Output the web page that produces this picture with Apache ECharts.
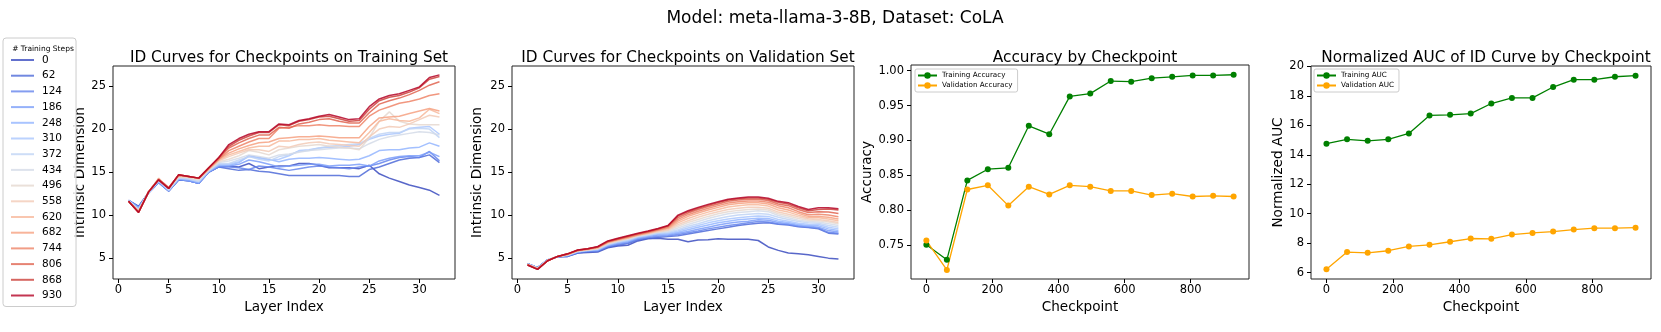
<!DOCTYPE html>
<html>
<head>
<meta charset="utf-8">
<script src="https://cdn.jsdelivr.net/npm/echarts@6/dist/echarts.min.js"></script>
<style>
  html, body { margin: 0; padding: 0; background: #fff; }
  #chart { width: 1661px; height: 332px; }
</style>
</head>
<body>
<div id="chart"></div>
<script>
// checkpoints (training steps) and layer indices
const steps = ['0', '62', '124', '186', '248', '310', '372', '434', '496', '558', '620', '682', '744', '806', '868', '930'];
const checkpoints = [0, 62, 124, 186, 248, 310, 372, 434, 496, 558, 620, 682, 744, 806, 868, 930];
const layers = [1, 2, 3, 4, 5, 6, 7, 8, 9, 10, 11, 12, 13, 14, 15, 16, 17, 18, 19, 20, 21, 22, 23, 24, 25, 26, 27, 28, 29, 30, 31, 32];

// coolwarm samples, one per checkpoint
const stepColors = ['#3b4cc0', '#4e6ad8', '#6585ec', '#7b9ef9', '#93b5ff', '#aac7fe', '#c0d4f5', '#d4dbe7',
  '#e5d8d0', '#f2cab6', '#f7b89b', '#f6a181', '#ee8568', '#e06450', '#cc4039', '#b40426'];

// ID curves, training set
const tr0 = [11.7, 11.0, 12.6, 13.8, 12.8, 14.1, 14.0, 13.7, 15.0, 15.6, 15.7, 15.6, 16.0, 15.4, 15.6, 15.7, 15.7, 16.0, 16.0, 15.8, 15.5, 15.5, 15.5, 15.4, 15.8, 14.8, 14.3, 13.9, 13.5, 13.2, 12.9, 12.3];
const tr62 = [11.7, 11.0, 12.6, 13.8, 12.8, 14.1, 14.0, 13.7, 15.0, 15.6, 15.4, 15.2, 15.3, 15.1, 15.0, 14.8, 14.6, 14.6, 14.6, 14.6, 14.6, 14.6, 14.5, 14.5, 15.3, 15.6, 16.0, 16.4, 16.6, 16.7, 17.0, 16.1];
const tr124 = [11.7, 10.9, 12.6, 13.8, 12.8, 14.1, 14.0, 13.7, 15.0, 15.6, 15.6, 15.5, 15.3, 15.7, 15.6, 15.4, 15.2, 15.4, 15.6, 15.7, 15.6, 15.5, 15.4, 15.6, 15.7, 16.0, 16.4, 16.7, 16.8, 16.7, 17.4, 16.3];
const tr186 = [11.7, 10.9, 12.6, 13.8, 12.8, 14.2, 14.0, 13.7, 15.0, 15.7, 15.7, 15.9, 16.4, 16.2, 15.9, 15.6, 15.7, 15.8, 15.9, 15.9, 15.7, 15.8, 15.8, 15.9, 15.7, 16.3, 16.6, 16.8, 16.9, 16.9, 17.3, 16.8];
const tr248 = [11.7, 10.8, 12.6, 13.9, 12.9, 14.2, 14.1, 13.8, 15.1, 15.8, 15.8, 16.1, 16.9, 16.7, 16.5, 16.2, 16.5, 16.6, 16.6, 16.7, 16.6, 16.5, 16.4, 16.5, 16.9, 17.5, 17.6, 17.6, 17.8, 17.9, 18.4, 18.0];
const tr310 = [11.7, 10.7, 12.6, 14.0, 12.9, 14.3, 14.2, 13.9, 15.1, 15.9, 15.9, 16.2, 16.8, 16.6, 16.4, 16.5, 16.9, 17.5, 17.6, 17.8, 17.9, 17.9, 18.0, 18.2, 18.8, 19.2, 19.4, 19.5, 20.1, 20.2, 20.3, 19.4];
const tr372 = [11.7, 10.6, 12.6, 14.0, 12.9, 14.3, 14.2, 13.9, 15.2, 16.0, 16.0, 16.4, 16.8, 16.5, 16.3, 16.8, 17.0, 17.4, 17.5, 17.8, 18.0, 18.1, 18.2, 18.3, 18.9, 19.4, 19.6, 19.6, 20.0, 20.1, 20.0, 19.0];
const tr434 = [11.6, 10.6, 12.7, 14.1, 13.0, 14.4, 14.3, 14.0, 15.2, 16.1, 16.3, 16.6, 17.0, 16.8, 16.6, 17.0, 17.1, 17.3, 17.5, 17.6, 17.7, 17.8, 17.8, 17.7, 18.3, 18.8, 19.1, 19.3, 19.5, 19.7, 19.6, 19.3];
const tr496 = [11.6, 10.5, 12.7, 14.2, 13.1, 14.5, 14.4, 14.2, 15.3, 16.2, 16.5, 16.9, 17.5, 17.3, 17.0, 17.6, 17.8, 18.0, 18.1, 18.2, 18.0, 17.9, 17.8, 17.6, 19.0, 20.9, 22.0, 20.9, 20.6, 20.5, 20.5, 20.5];
const tr558 = [11.6, 10.5, 12.7, 14.3, 13.1, 14.5, 14.4, 14.2, 15.3, 16.3, 16.8, 17.2, 17.6, 17.6, 17.4, 18.0, 17.9, 18.2, 18.4, 18.5, 18.3, 18.2, 18.1, 18.0, 19.1, 20.0, 20.3, 20.2, 20.6, 21.1, 21.6, 21.4];
const tr620 = [11.6, 10.4, 12.7, 14.2, 13.2, 14.6, 14.5, 14.3, 15.4, 16.4, 17.0, 17.4, 17.8, 18.0, 18.0, 18.6, 18.6, 18.8, 18.8, 18.9, 18.7, 18.6, 18.5, 18.4, 19.6, 20.9, 21.2, 21.0, 20.9, 21.3, 22.3, 21.8];
const tr682 = [11.6, 10.4, 12.7, 14.2, 13.2, 14.6, 14.5, 14.3, 15.4, 16.5, 17.2, 17.7, 18.1, 18.4, 18.5, 18.9, 19.0, 19.1, 19.1, 19.2, 19.1, 19.0, 19.0, 19.0, 20.3, 21.3, 21.4, 21.5, 21.8, 22.1, 22.4, 22.1];
const tr744 = [11.6, 10.4, 12.7, 14.2, 13.2, 14.6, 14.5, 14.3, 15.4, 16.5, 17.5, 18.0, 18.5, 18.9, 18.9, 20.1, 20.2, 20.4, 20.4, 20.5, 20.4, 20.4, 20.3, 20.3, 21.5, 22.2, 22.6, 23.0, 23.2, 23.5, 23.9, 24.1];
const tr806 = [11.6, 10.3, 12.7, 14.1, 13.1, 14.7, 14.5, 14.3, 15.5, 16.6, 17.8, 18.4, 18.9, 19.3, 19.3, 20.2, 20.1, 20.6, 20.8, 21.1, 21.2, 20.9, 20.7, 20.7, 21.9, 22.9, 23.3, 23.6, 24.0, 24.5, 25.1, 25.5];
const tr868 = [11.6, 10.3, 12.7, 14.1, 13.1, 14.7, 14.5, 14.3, 15.5, 16.7, 18.0, 18.7, 19.2, 19.6, 19.6, 20.5, 20.4, 20.9, 21.1, 21.4, 21.5, 21.2, 20.9, 21.0, 22.3, 23.3, 23.7, 23.9, 24.3, 24.8, 25.8, 26.1];
const tr930 = [11.6, 10.3, 12.7, 14.1, 13.1, 14.7, 14.5, 14.3, 15.5, 16.7, 18.2, 18.9, 19.4, 19.7, 19.7, 20.6, 20.5, 21.0, 21.2, 21.5, 21.7, 21.4, 21.1, 21.2, 22.6, 23.5, 23.9, 24.1, 24.5, 24.9, 26.0, 26.3];

// ID curves, validation set
const va0 = [4.35, 3.9, 4.8, 5.15, 5.2, 5.6, 5.65, 5.7, 6.2, 6.4, 6.5, 7.0, 7.25, 7.3, 7.2, 7.2, 6.9, 7.1, 7.15, 7.25, 7.2, 7.2, 7.2, 7.05, 6.3, 5.9, 5.6, 5.5, 5.4, 5.2, 5.0, 4.9];
const va62 = [4.35, 3.9, 4.8, 5.15, 5.2, 5.6, 5.75, 5.8, 6.3, 6.5, 6.7, 7.1, 7.3, 7.4, 7.5, 7.6, 7.8, 8.0, 8.2, 8.4, 8.6, 8.8, 8.95, 9.05, 9.1, 8.95, 8.85, 8.65, 8.55, 8.4, 7.9, 7.8];
const va124 = [4.35, 3.9, 4.8, 5.15, 5.25, 5.65, 5.8, 5.85, 6.35, 6.6, 6.8, 7.2, 7.4, 7.55, 7.6, 7.75, 7.95, 8.15, 8.4, 8.6, 8.8, 8.95, 9.1, 9.25, 9.2, 9.0, 8.9, 8.7, 8.6, 8.5, 8.0, 7.9];
const va186 = [4.35, 3.9, 4.8, 5.15, 5.3, 5.7, 5.85, 5.9, 6.45, 6.7, 6.9, 7.3, 7.5, 7.7, 7.7, 7.9, 8.1, 8.35, 8.6, 8.85, 9.05, 9.2, 9.3, 9.45, 9.4, 9.15, 9.0, 8.8, 8.7, 8.6, 8.2, 8.05];
const va248 = [4.35, 3.85, 4.8, 5.2, 5.3, 5.75, 5.9, 5.95, 6.5, 6.8, 7.0, 7.4, 7.6, 7.8, 7.8, 8.0, 8.3, 8.6, 8.85, 9.1, 9.3, 9.45, 9.55, 9.65, 9.6, 9.3, 9.15, 8.9, 8.8, 8.75, 8.4, 8.2];
const va310 = [4.3, 3.85, 4.75, 5.2, 5.35, 5.75, 5.9, 6.0, 6.55, 6.85, 7.05, 7.45, 7.65, 7.85, 7.9, 8.15, 8.5, 8.8, 9.1, 9.35, 9.55, 9.7, 9.8, 9.9, 9.85, 9.5, 9.3, 9.05, 8.95, 8.9, 8.6, 8.4];
const va372 = [4.3, 3.85, 4.75, 5.2, 5.35, 5.8, 5.95, 6.05, 6.6, 6.9, 7.1, 7.5, 7.7, 7.9, 8.0, 8.3, 8.7, 9.0, 9.35, 9.6, 9.85, 10.0, 10.1, 10.2, 10.1, 9.75, 9.5, 9.25, 9.1, 9.05, 8.8, 8.6];
const va434 = [4.3, 3.8, 4.75, 5.2, 5.4, 5.8, 5.95, 6.1, 6.65, 6.95, 7.2, 7.55, 7.75, 8.0, 8.1, 8.5, 8.9, 9.25, 9.6, 9.9, 10.15, 10.3, 10.4, 10.5, 10.4, 9.95, 9.7, 9.4, 9.25, 9.2, 9.0, 8.8];
const va496 = [4.3, 3.8, 4.75, 5.2, 5.4, 5.85, 5.95, 6.1, 6.7, 7.0, 7.25, 7.6, 7.8, 8.05, 8.2, 8.7, 9.15, 9.5, 9.85, 10.15, 10.4, 10.55, 10.65, 10.7, 10.6, 10.15, 9.9, 9.6, 9.4, 9.35, 9.2, 9.0];
const va558 = [4.3, 3.8, 4.75, 5.2, 5.4, 5.85, 6.0, 6.15, 6.75, 7.05, 7.3, 7.65, 7.85, 8.1, 8.3, 8.9, 9.35, 9.75, 10.1, 10.4, 10.65, 10.8, 10.9, 10.9, 10.8, 10.35, 10.1, 9.8, 9.55, 9.5, 9.35, 9.15];
const va620 = [4.25, 3.75, 4.7, 5.2, 5.45, 5.9, 6.0, 6.2, 6.8, 7.1, 7.35, 7.7, 7.9, 8.2, 8.4, 9.1, 9.6, 10.0, 10.35, 10.65, 10.95, 11.1, 11.2, 11.2, 11.05, 10.6, 10.35, 10.0, 9.7, 9.7, 9.55, 9.35];
const va682 = [4.25, 3.75, 4.7, 5.2, 5.45, 5.9, 6.05, 6.25, 6.85, 7.15, 7.4, 7.7, 7.95, 8.25, 8.5, 9.3, 9.85, 10.25, 10.6, 10.9, 11.2, 11.35, 11.45, 11.45, 11.3, 10.85, 10.6, 10.2, 9.85, 9.85, 9.75, 9.55];
const va744 = [4.25, 3.75, 4.7, 5.2, 5.45, 5.9, 6.05, 6.25, 6.9, 7.2, 7.45, 7.75, 8.0, 8.3, 8.6, 9.5, 10.05, 10.45, 10.8, 11.1, 11.4, 11.55, 11.65, 11.65, 11.5, 11.1, 10.85, 10.4, 10.05, 10.1, 10.0, 9.8];
const va806 = [4.2, 3.7, 4.7, 5.2, 5.5, 5.9, 6.1, 6.3, 6.9, 7.2, 7.5, 7.8, 8.05, 8.35, 8.7, 9.7, 10.25, 10.65, 11.0, 11.3, 11.6, 11.75, 11.85, 11.85, 11.7, 11.3, 11.1, 10.65, 10.3, 10.4, 10.35, 10.2];
const va868 = [4.2, 3.7, 4.7, 5.2, 5.5, 5.95, 6.1, 6.3, 6.95, 7.25, 7.55, 7.85, 8.1, 8.4, 8.75, 9.9, 10.4, 10.8, 11.15, 11.45, 11.75, 11.9, 12.0, 12.0, 11.85, 11.5, 11.3, 10.85, 10.5, 10.65, 10.7, 10.6];
const va930 = [4.2, 3.7, 4.7, 5.2, 5.5, 5.95, 6.1, 6.35, 7.0, 7.3, 7.6, 7.9, 8.15, 8.45, 8.8, 10.0, 10.5, 10.9, 11.25, 11.55, 11.85, 12.0, 12.1, 12.1, 11.95, 11.6, 11.45, 11.0, 10.65, 10.85, 10.85, 10.75];

const trainCurves = [tr0, tr62, tr124, tr186, tr248, tr310, tr372, tr434, tr496, tr558, tr620, tr682, tr744, tr806, tr868, tr930];
const valCurves = [va0, va62, va124, va186, va248, va310, va372, va434, va496, va558, va620, va682, va744, va806, va868, va930];

// accuracy and normalized AUC per checkpoint
const trainAcc = [0.751, 0.7295, 0.843, 0.859, 0.861, 0.921, 0.909, 0.963, 0.967, 0.985, 0.984, 0.989, 0.991, 0.993, 0.993, 0.994];
const valAcc = [0.757, 0.715, 0.830, 0.836, 0.807, 0.834, 0.823, 0.836, 0.834, 0.828, 0.828, 0.822, 0.824, 0.820, 0.821, 0.820];
const trainAuc = [14.75, 15.05, 14.95, 15.05, 15.45, 16.67, 16.71, 16.8, 17.48, 17.86, 17.86, 18.6, 19.1, 19.1, 19.3, 19.37];
const valAuc = [6.22, 7.39, 7.34, 7.48, 7.77, 7.88, 8.09, 8.31, 8.29, 8.58, 8.69, 8.78, 8.92, 9.01, 9.01, 9.05];

const layerTicks = [0, 5, 10, 15, 20, 25, 30];
const idTicks = [5, 10, 15, 20, 25];
const ckptTicks = [0, 200, 400, 600, 800];
const accTicks = [0.75, 0.80, 0.85, 0.90, 0.95, 1.00];
const aucTicks = [6, 8, 10, 12, 14, 16, 18, 20];

const FONT = 'DejaVu Sans';

function xAxisFor(grid, min, max, ticks, name) {
  return {
    type: 'value', gridIndex: grid, min: min, max: max,
    name: name, nameLocation: 'middle', nameGap: 20,
    nameTextStyle: { fontSize: 13.6, color: '#000', fontFamily: FONT },
    axisLine: { show: false, onZero: false },
    axisTick: { show: true, length: 4, customValues: ticks, lineStyle: { color: '#000' } },
    axisLabel: { customValues: ticks, margin: 5, fontSize: 11.5, color: '#000', fontFamily: FONT },
    splitLine: { show: false }
  };
}

function yAxisFor(grid, min, max, ticks, name, gap, fmt) {
  return {
    type: 'value', gridIndex: grid, min: min, max: max,
    name: name, nameLocation: 'middle', nameGap: gap,
    nameTextStyle: { fontSize: 13.6, color: '#000', fontFamily: FONT },
    axisLine: { show: false, onZero: false },
    axisTick: { show: true, length: 4, customValues: ticks, lineStyle: { color: '#000' } },
    axisLabel: { customValues: ticks, margin: 7, fontSize: 11.5, color: '#000', fontFamily: FONT, formatter: fmt },
    splitLine: { show: false }
  };
}

const gridBase = { show: true, borderColor: '#222', borderWidth: 1, backgroundColor: '#fff', containLabel: false, outerBoundsMode: 'none' };

const series = [];
trainCurves.forEach(function (curve, i) {
  series.push({
    name: steps[i], type: 'line', xAxisIndex: 0, yAxisIndex: 0,
    data: layers.map(function (l, k) { return [l, curve[k]]; }),
    symbol: 'none', color: stepColors[i],
    lineStyle: { width: 1.5, color: stepColors[i], opacity: 0.85 }
  });
});
valCurves.forEach(function (curve, i) {
  series.push({
    name: steps[i], type: 'line', xAxisIndex: 1, yAxisIndex: 1,
    data: layers.map(function (l, k) { return [l, curve[k]]; }),
    symbol: 'none', color: stepColors[i],
    lineStyle: { width: 1.5, color: stepColors[i], opacity: 0.85 }
  });
});

function pointSeries(name, axis, values, color) {
  return {
    name: name, type: 'line', xAxisIndex: axis, yAxisIndex: axis,
    data: checkpoints.map(function (c, k) { return [c, values[k]]; }),
    symbol: 'circle', symbolSize: 6, color: color,
    itemStyle: { color: color }, lineStyle: { width: 1.3, color: color }
  };
}
series.push(pointSeries('Training Accuracy', 2, trainAcc, '#008000'));
series.push(pointSeries('Validation Accuracy', 2, valAcc, '#ffa500'));
series.push(pointSeries('Training AUC', 3, trainAuc, '#008000'));
series.push(pointSeries('Validation AUC', 3, valAuc, '#ffa500'));

function panelTitle(text, cx) {
  return { text: text, left: cx, top: 46, textAlign: 'center',
    textStyle: { fontSize: 15.3, fontWeight: 'normal', color: '#000', fontFamily: FONT } };
}

function smallLegend(names, left) {
  return {
    data: names, orient: 'vertical', left: left, top: 69,
    itemWidth: 19, itemHeight: 8, itemGap: 3, padding: [3, 5, 3, 2],
    borderColor: '#ccc', borderWidth: 1, borderRadius: 2, backgroundColor: 'rgba(255,255,255,0.8)',
    textStyle: { fontSize: 7.2, color: '#000', fontFamily: FONT }
  };
}

const option = {
  animation: false,
  backgroundColor: '#fff',
  title: [
    { text: 'Model: meta-llama-3-8B, Dataset: CoLA', left: 830, top: 5, textAlign: 'center',
      textStyle: { fontSize: 17, fontWeight: 'normal', color: '#000', fontFamily: FONT } },
    panelTitle('ID Curves for Checkpoints on Training Set', 284),
    panelTitle('ID Curves for Checkpoints on Validation Set', 683),
    panelTitle('Accuracy by Checkpoint', 1080),
    panelTitle('Normalized AUC of ID Curve by Checkpoint', 1481),
    { text: '# Training Steps', left: 38, top: 40, textAlign: 'center',
      textStyle: { fontSize: 7.5, fontWeight: 'normal', color: '#000', fontFamily: FONT } }
  ],
  legend: [
    {
      data: steps, orient: 'vertical', left: 3, top: 38, icon: 'rect',
      itemWidth: 23, itemHeight: 2, itemGap: 3.7, padding: [16, 14, 5, 8],
      itemStyle: { opacity: 0.8 },
      borderColor: '#ccc', borderWidth: 1, borderRadius: 3, backgroundColor: 'rgba(255,255,255,0.8)',
      textStyle: { fontSize: 10.5, lineHeight: 12, color: '#000', fontFamily: FONT, padding: [0, 0, 0, 3] }
    },
    smallLegend(['Training Accuracy', 'Validation Accuracy'], 915),
    smallLegend(['Training AUC', 'Validation AUC'], 1314)
  ],
  grid: [
    Object.assign({ left: 113, top: 66, width: 342, height: 213 }, gridBase),
    Object.assign({ left: 512, top: 66, width: 342, height: 213 }, gridBase),
    Object.assign({ left: 911, top: 65, width: 338, height: 214 }, gridBase),
    Object.assign({ left: 1311, top: 66, width: 340, height: 213 }, gridBase)
  ],
  xAxis: [
    xAxisFor(0, -0.55, 33.55, layerTicks, 'Layer Index'),
    xAxisFor(1, -0.55, 33.55, layerTicks, 'Layer Index'),
    xAxisFor(2, -46.5, 976.5, ckptTicks, 'Checkpoint'),
    xAxisFor(3, -46.5, 976.5, ckptTicks, 'Checkpoint')
  ],
  yAxis: [
    yAxisFor(0, 2.575, 27.33, idTicks, 'Intrinsic Dimension', 22),
    yAxisFor(1, 2.575, 27.33, idTicks, 'Intrinsic Dimension', 28),
    yAxisFor(2, 0.7021, 1.0079, accTicks, 'Accuracy', 32, function (v) { return v.toFixed(2); }),
    yAxisFor(3, 5.56, 20.03, aucTicks, 'Normalized AUC', 23)
  ],
  series: series
};

const chart = echarts.init(document.getElementById('chart'));
chart.setOption(option);
</script>
</body>
</html>
